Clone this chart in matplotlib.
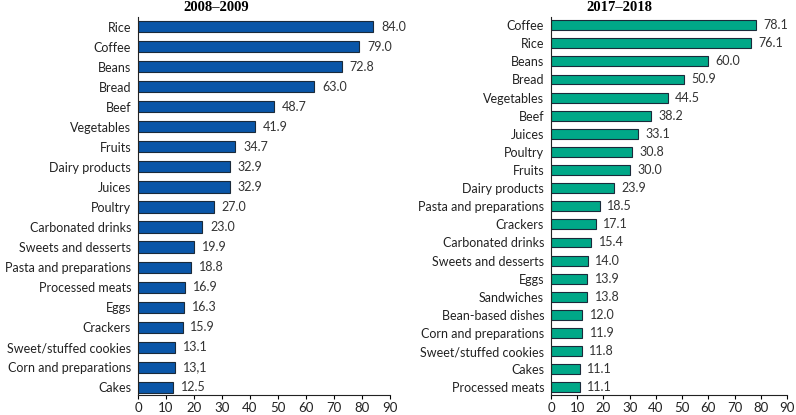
import matplotlib
matplotlib.use("Agg")
import matplotlib.pyplot as plt

cats_a = ["Rice", "Coffee", "Beans", "Bread", "Beef", "Vegetables", "Fruits",
          "Dairy products", "Juices", "Poultry", "Carbonated drinks",
          "Sweets and desserts", "Pasta and preparations", "Processed meats",
          "Eggs", "Crackers", "Sweet/stuffed cookies", "Corn and preparations", "Cakes"]
vals_a = [84.0, 79.0, 72.8, 63.0, 48.7, 41.9, 34.7, 32.9, 32.9, 27.0, 23.0,
          19.9, 18.8, 16.9, 16.3, 15.9, 13.1, 13.1, 12.5]
labels_a = ["84.0", "79.0", "72.8", "63.0", "48.7", "41.9", "34.7", "32.9", "32.9",
            "27.0", "23.0", "19.9", "18.8", "16.9", "16.3", "15.9", "13.1", "13,1", "12.5"]

cats_b = ["Coffee", "Rice", "Beans", "Bread", "Vegetables", "Beef", "Juices",
          "Poultry", "Fruits", "Dairy products", "Pasta and preparations",
          "Crackers", "Carbonated drinks", "Sweets and desserts", "Eggs",
          "Sandwiches", "Bean-based dishes", "Corn and preparations",
          "Sweet/stuffed cookies", "Cakes", "Processed meats"]
vals_b = [78.1, 76.1, 60.0, 50.9, 44.5, 38.2, 33.1, 30.8, 30.0, 23.9, 18.5,
          17.1, 15.4, 14.0, 13.9, 13.8, 12.0, 11.9, 11.8, 11.1, 11.1]
labels_b = [f"{v:.1f}" for v in vals_b]

titles = ["2008\u20132009", "2017\u20132018"]
ticks = [0, 10, 20, 30, 40, 50, 60, 70, 80, 90]

plt.rcParams['font.family'] = ['Lato', 'DejaVu Sans']

fig = plt.figure(figsize=(7.96, 4.15), dpi=100)
W, H = 796, 415
ax1 = fig.add_axes([138 / W, 1 - 395 / H, 252 / W, (395 - 17) / H])
ax2 = fig.add_axes([551 / W, 1 - 395 / H, 236 / W, (395 - 17) / H])

def draw(ax, cats, vals, labels, color, title, lo, hi, tx):
    y = list(range(len(cats)))
    ax.barh(y, vals, height=0.55, color=color, edgecolor="#1a2a3a", linewidth=0.8)
    for yi, v, lab in zip(y, vals, labels):
        ax.text(v + 2.8, yi, lab, va="center", ha="left", fontsize=9, color="#333333")
    ax.set_yticks(y)
    ax.set_yticklabels(cats, fontsize=9, color="#222222")
    ax.set_ylim(hi, lo)
    ax.set_xlim(0, 90)
    ax.set_xticks(ticks)
    ax.set_xticklabels([str(t) for t in ticks], fontsize=9.5, color="#222222")
    ax.tick_params(axis="y", length=0, pad=5)
    ax.tick_params(axis="x", length=3, direction="out", width=0.8, pad=2)
    for s in ["top", "right"]:
        ax.spines[s].set_visible(False)
    for s in ["left", "bottom"]:
        ax.spines[s].set_linewidth(0.8)
        ax.spines[s].set_color("#222222")
    ax.set_title(title, fontsize=10.5, fontweight="bold", family="Liberation Serif",
                 pad=4, x=tx)

draw(ax1, cats_a, vals_a, labels_a, "#0a56a8", titles[0], -0.5, len(cats_a) - 1 + 0.4, 0.31)
draw(ax2, cats_b, vals_b, labels_b, "#00a888", titles[1], -0.45, len(cats_b) - 1 + 0.42, 0.288)

fig.savefig("out.png", dpi=100)
